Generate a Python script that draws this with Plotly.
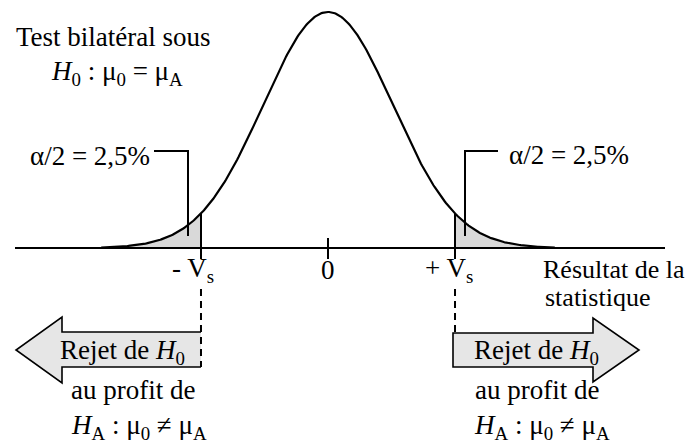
import numpy as np
import plotly.graph_objects as go

# ---- data ----
VS = 1.96            # critical value (bilateral, alpha = 5%)
ALPHA_HALF = "2,5%"
Z_MIN, Z_MAX = -3.5, 3.5
tick_values = [-VS, 0.0, VS]
tick_labels = ["- V<sub>s</sub>", "0", "+ V<sub>s</sub>"]

z = np.linspace(Z_MIN, Z_MAX, 401)
pdf = np.exp(-z**2 / 2) / np.sqrt(2 * np.pi)

# ---- geometry helpers (pixel -> data) ----
W, H = 694, 444
CX, SX = 328.0, 64.8      # px of z=0, px per unit z
BY, SY = 248.0, 591.6     # px of density 0, px per unit density
def X(px): return (px - CX) / SX
def Y(py): return (BY - py) / SY

FONT = "Liberation Serif, Times New Roman, serif"
FS = 27
BLACK = "#000000"
TAIL_FILL = "#d9d9d9"
ARROW_FILL = "#e6e6e6"

fig = go.Figure()

# shaded tails
zl = z[z <= -VS]
zr = z[z >= VS]
for zz in (zl, zr):
    pz = np.exp(-zz**2 / 2) / np.sqrt(2 * np.pi)
    xs = np.concatenate([zz, zz[::-1]])
    ys = np.concatenate([pz, np.zeros_like(pz)])
    fig.add_trace(go.Scatter(x=xs, y=ys, fill="toself", fillcolor=TAIL_FILL,
                             line=dict(width=0), mode="lines", hoverinfo="skip",
                             showlegend=False))

# density curve
fig.add_trace(go.Scatter(x=z, y=pdf, mode="lines",
                         line=dict(color=BLACK, width=2.2), showlegend=False,
                         hoverinfo="skip"))

shapes = []
# baseline
shapes.append(dict(type="line", x0=X(15), x1=X(665), y0=0, y1=0,
                   line=dict(color=BLACK, width=2)))
# ticks
pdf_vs = np.exp(-VS**2 / 2) / np.sqrt(2 * np.pi)
for t in tick_values:
    top = pdf_vs if t != 0 else Y(238)
    shapes.append(dict(type="line", x0=t, x1=t, y0=top, y1=Y(259),
                       line=dict(color=BLACK, width=2)))

# leader lines for alpha/2
shapes.append(dict(type="path", path=f"M {X(154)},{Y(151)} L {X(188)},{Y(151)} L {X(188)},{Y(236)}",
                   line=dict(color=BLACK, width=2)))
shapes.append(dict(type="path", path=f"M {X(465)},{Y(236)} L {X(465)},{Y(151)} L {X(498)},{Y(151)}",
                   line=dict(color=BLACK, width=2)))

# arrows
def pts(lst):
    return " L ".join(f"{X(a)},{Y(b)}" for a, b in lst)

left_arrow = [(201, 332), (62, 332), (62, 317), (16, 350), (62, 383), (62, 367), (201, 367)]
shapes.append(dict(type="path", path="M " + pts(left_arrow) + " Z",
                   fillcolor=ARROW_FILL, line=dict(width=0), layer="below"))
shapes.append(dict(type="path", path="M " + pts(left_arrow),
                   line=dict(color=BLACK, width=1.6)))

right_arrow = [(453, 333), (593, 333), (593, 318), (639, 350), (593, 382), (593, 367), (453, 367)]
shapes.append(dict(type="path", path="M " + pts(right_arrow) + " Z",
                   fillcolor=ARROW_FILL, line=dict(color=BLACK, width=1.6), layer="below"))

# dashed lines from critical values down to the arrows
shapes.append(dict(type="line", x0=-VS, x1=-VS, y0=Y(289), y1=Y(367),
                   line=dict(color=BLACK, width=2, dash="7px,5px")))
shapes.append(dict(type="line", x0=VS, x1=VS, y0=Y(289), y1=Y(333),
                   line=dict(color=BLACK, width=2, dash="7px,5px")))

annotations = []
def txt(s, px, py, anchor="center", size=FS):
    annotations.append(dict(text=s, x=X(px), y=Y(py), xref="x", yref="y",
                            xanchor=anchor, yanchor="middle", showarrow=False,
                            font=dict(family=FONT, size=size, color=BLACK)))

txt("Test bilatéral sous", 113, 37)
txt("<i>H</i><sub>0</sub> : μ<sub>0</sub> = μ<sub>A</sub>", 117, 73)
txt(f"α/2 = {ALPHA_HALF}", 90, 156)
txt(f"α/2 = {ALPHA_HALF}", 569, 155)
for t, lab in zip(tick_values, tick_labels):
    off = -8 if t < 0 else (-6 if t > 0 else 0)
    txt(lab, CX + SX * t + off, 270)
txt("Résultat de la", 614, 269, size=26)
txt("statistique", 597, 297, size=26)
txt("Rejet de <i>H</i><sub>0</sub>", 122, 352)
txt("Rejet de <i>H</i><sub>0</sub>", 536, 352)
txt("au profit de", 133, 390)
txt("au profit de", 537, 390)
txt("<i>H</i><sub>A</sub> : μ<sub>0</sub> ≠ μ<sub>A</sub>", 139, 427)
txt("<i>H</i><sub>A</sub> : μ<sub>0</sub> ≠ μ<sub>A</sub>", 542, 427)

fig.update_layout(
    width=W, height=H, margin=dict(l=0, r=0, t=0, b=0),
    paper_bgcolor="white", plot_bgcolor="white",
    xaxis=dict(range=[X(0), X(W)], visible=False, fixedrange=True),
    yaxis=dict(range=[Y(H), Y(0)], visible=False, fixedrange=True),
    shapes=shapes, annotations=annotations, showlegend=False,
)
fig.write_html("out.html", config={"displayModeBar": False},
               post_script="document.body.style.margin='0';document.body.style.overflow='hidden';")
